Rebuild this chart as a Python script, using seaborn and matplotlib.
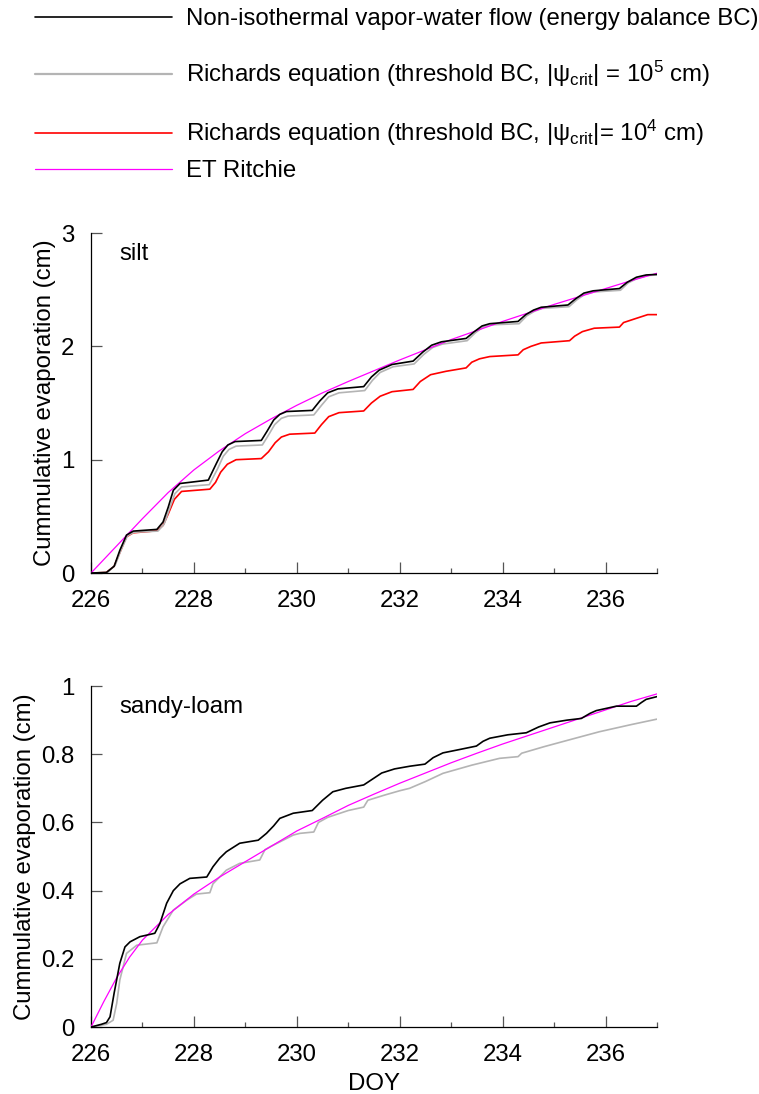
import numpy as np
import pandas as pd
import matplotlib
matplotlib.use("Agg")
import matplotlib.pyplot as plt
import seaborn as sns
from matplotlib.lines import Line2D
from matplotlib.ticker import MultipleLocator

# ---------------- data: silt ----------------
silt_nonisothermal_doy = [226.00, 226.30, 226.45, 226.56, 226.69, 226.82, 227.28, 227.40, 227.50, 227.60,
                          227.73, 228.28, 228.44, 228.55, 228.66, 228.80, 229.31, 229.42, 229.55, 229.67,
                          229.80, 230.30, 230.45, 230.60, 230.80, 231.30, 231.45, 231.60, 231.85, 232.26,
                          232.45, 232.62, 232.81, 233.29, 233.45, 233.60, 233.75, 234.30, 234.45, 234.60,
                          234.75, 235.27, 235.42, 235.58, 235.76, 236.27, 236.42, 236.60, 236.79, 237.00]
silt_nonisothermal_evap = [0.000, 0.005, 0.060, 0.200, 0.335, 0.370, 0.385, 0.450, 0.580, 0.730,
                           0.790, 0.820, 0.970, 1.070, 1.130, 1.160, 1.170, 1.250, 1.350, 1.400,
                           1.425, 1.435, 1.520, 1.590, 1.625, 1.645, 1.730, 1.790, 1.840, 1.870,
                           1.950, 2.010, 2.040, 2.070, 2.130, 2.180, 2.200, 2.220, 2.280, 2.320,
                           2.345, 2.365, 2.420, 2.470, 2.490, 2.510, 2.565, 2.610, 2.630, 2.635]

silt_rich5_doy = [226.00, 226.32, 226.47, 226.58, 226.71, 226.84, 227.30, 227.42, 227.52, 227.63,
                  227.76, 228.30, 228.46, 228.57, 228.68, 228.82, 229.33, 229.44, 229.57, 229.70,
                  229.83, 230.33, 230.48, 230.62, 230.82, 231.32, 231.47, 231.62, 231.87, 232.28,
                  232.47, 232.64, 232.83, 233.31, 233.47, 233.62, 233.77, 234.32, 234.47, 234.62,
                  234.77, 235.29, 235.44, 235.60, 235.78, 236.29, 236.44, 236.62, 236.81, 237.00]
silt_rich5_evap = [0.000, 0.005, 0.070, 0.200, 0.330, 0.360, 0.370, 0.430, 0.560, 0.700,
                   0.760, 0.780, 0.920, 1.030, 1.090, 1.120, 1.130, 1.210, 1.310, 1.365,
                   1.385, 1.395, 1.480, 1.555, 1.590, 1.610, 1.700, 1.770, 1.820, 1.845,
                   1.930, 1.990, 2.020, 2.050, 2.120, 2.170, 2.190, 2.200, 2.270, 2.310,
                   2.335, 2.350, 2.410, 2.460, 2.480, 2.495, 2.560, 2.600, 2.625, 2.630]

silt_rich4_doy = [226.00, 226.30, 226.45, 226.56, 226.69, 226.82, 227.28, 227.40, 227.50, 227.62,
                  227.76, 228.31, 228.42, 228.52, 228.65, 228.82, 229.31, 229.45, 229.58, 229.70,
                  229.86, 230.35, 230.48, 230.62, 230.82, 231.30, 231.45, 231.62, 231.85, 232.26,
                  232.40, 232.60, 232.90, 233.29, 233.40, 233.55, 233.75, 234.30, 234.40, 234.55,
                  234.75, 235.30, 235.40, 235.55, 235.78, 236.27, 236.35, 236.55, 236.82, 237.00]
silt_rich4_evap = [0.000, 0.005, 0.060, 0.180, 0.320, 0.355, 0.373, 0.420, 0.520, 0.650,
                   0.720, 0.740, 0.800, 0.890, 0.960, 1.000, 1.010, 1.070, 1.150, 1.200,
                   1.225, 1.235, 1.310, 1.380, 1.415, 1.430, 1.500, 1.560, 1.600, 1.620,
                   1.690, 1.750, 1.780, 1.810, 1.860, 1.890, 1.910, 1.925, 1.970, 2.000,
                   2.030, 2.050, 2.090, 2.130, 2.160, 2.170, 2.210, 2.240, 2.280, 2.280]

silt_ritchie_doy = [226.0, 226.5, 227.0, 227.5, 228.0, 228.5, 229.0, 229.5, 230.0, 230.5, 231.0,
                    231.5, 232.0, 232.5, 233.0, 233.5, 234.0, 234.5, 235.0, 235.5, 236.0, 236.5, 237.0]
silt_ritchie_evap = [0.000, 0.240, 0.480, 0.710, 0.910, 1.080, 1.230, 1.360, 1.480, 1.590, 1.690,
                     1.785, 1.880, 1.970, 2.060, 2.140, 2.220, 2.295, 2.370, 2.440, 2.510, 2.580, 2.645]

# ---------------- data: sandy loam ----------------
sand_nonisothermal_doy = [226.00, 226.20, 226.30, 226.37, 226.45, 226.56, 226.66, 226.76, 226.95, 227.24,
                          227.34, 227.47, 227.60, 227.73, 227.92, 228.25, 228.37, 228.50, 228.63, 228.89,
                          229.25, 229.41, 229.55, 229.67, 229.93, 230.30, 230.50, 230.70, 230.95, 231.30,
                          231.45, 231.65, 231.90, 232.20, 232.49, 232.65, 232.84, 233.20, 233.49, 233.62,
                          233.75, 234.10, 234.46, 234.70, 234.92, 235.25, 235.53, 235.70, 235.82, 236.21,
                          236.60, 236.70, 236.79, 237.00]
sand_nonisothermal_evap = [0.000, 0.008, 0.013, 0.030, 0.100, 0.187, 0.235, 0.250, 0.265, 0.275,
                           0.304, 0.363, 0.400, 0.420, 0.436, 0.440, 0.470, 0.495, 0.514, 0.539,
                           0.548, 0.568, 0.590, 0.612, 0.627, 0.635, 0.665, 0.690, 0.700, 0.710,
                           0.725, 0.745, 0.757, 0.765, 0.771, 0.790, 0.804, 0.815, 0.824, 0.838,
                           0.847, 0.857, 0.863, 0.880, 0.892, 0.900, 0.905, 0.920, 0.928, 0.941,
                           0.941, 0.952, 0.961, 0.969]

sand_rich5_doy = [226.00, 226.30, 226.43, 226.50, 226.56, 226.69, 226.89, 227.28, 227.40, 227.60,
                  227.86, 228.05, 228.31, 228.37, 228.50, 228.63, 228.89, 229.28, 229.38, 229.50,
                  229.67, 229.93, 230.06, 230.33, 230.42, 230.60, 231.00, 231.30, 231.38, 231.70,
                  232.00, 232.19, 232.50, 232.84, 233.40, 233.94, 234.30, 234.37, 234.80, 235.24,
                  235.88, 236.50, 237.00]
sand_rich5_evap = [0.000, 0.008, 0.020, 0.070, 0.138, 0.216, 0.240, 0.247, 0.294, 0.343,
                   0.372, 0.390, 0.394, 0.420, 0.440, 0.460, 0.480, 0.490, 0.520, 0.530,
                   0.543, 0.563, 0.568, 0.572, 0.600, 0.615, 0.635, 0.645, 0.665, 0.680,
                   0.693, 0.700, 0.720, 0.744, 0.768, 0.788, 0.793, 0.803, 0.822, 0.840,
                   0.866, 0.887, 0.903]

sand_ritchie_doy = [226.0, 226.25, 226.5, 226.75, 227.0, 227.5, 228.0, 228.5, 229.0, 229.5, 230.0,
                    230.5, 231.0, 231.5, 232.0, 232.5, 233.0, 233.5, 234.0, 234.5, 235.0, 235.5,
                    236.0, 236.5, 237.0]
sand_ritchie_evap = [0.000, 0.075, 0.145, 0.205, 0.255, 0.330, 0.390, 0.440, 0.485, 0.530, 0.575,
                     0.612, 0.650, 0.683, 0.715, 0.745, 0.775, 0.803, 0.830, 0.855, 0.880, 0.905,
                     0.930, 0.955, 0.977]

labels = [
    "Non-isothermal vapor-water flow (energy balance BC)",
    "Richards equation (threshold BC, |ψ$_{crit}$| = 10$^5$ cm)",
    "Richards equation (threshold BC, |ψ$_{crit}$|= 10$^4$ cm)",
    "ET Ritchie",
]
colors = ["#000000", "#b4b4b4", "#ff0000", "#ff00ff"]
widths = [1.2, 1.2, 1.2, 0.9]
zorders = [4, 2, 2, 3]

FS = 17.3

sns.set_theme(style="ticks")
plt.rcParams["font.family"] = ["Liberation Sans", "DejaVu Sans"]
plt.rcParams["mathtext.default"] = "regular"
plt.rcParams["text.color"] = "black"
plt.rcParams["axes.labelcolor"] = "black"

fig = plt.figure(figsize=(7.59, 10.94), dpi=100)
ax_top = fig.add_axes([0.1199, 0.4762, 0.7457, 0.3108])
ax_bot = fig.add_axes([0.1199, 0.0612, 0.7457, 0.3117])


def draw(ax, series):
    for (doy, evap), lab in series:
        i = labels.index(lab)
        sns.lineplot(x=doy, y=evap, ax=ax, color=colors[i], lw=widths[i],
                     zorder=zorders[i], estimator=None, sort=False)


draw(ax_top, [((silt_rich4_doy, silt_rich4_evap), labels[2]),
              ((silt_rich5_doy, silt_rich5_evap), labels[1]),
              ((silt_ritchie_doy, silt_ritchie_evap), labels[3]),
              ((silt_nonisothermal_doy, silt_nonisothermal_evap), labels[0])])
draw(ax_bot, [((sand_rich5_doy, sand_rich5_evap), labels[1]),
              ((sand_ritchie_doy, sand_ritchie_evap), labels[3]),
              ((sand_nonisothermal_doy, sand_nonisothermal_evap), labels[0])])

for ax, ymax, ystep, name in [(ax_top, 3, 1, "silt"), (ax_bot, 1, 0.2, "sandy-loam")]:
    ax.set_xlim(226, 237)
    ax.set_ylim(0, ymax)
    ax.xaxis.set_major_locator(MultipleLocator(2))
    ax.xaxis.set_minor_locator(MultipleLocator(1))
    ax.yaxis.set_major_locator(MultipleLocator(ystep))
    ax.yaxis.set_major_formatter(plt.FuncFormatter(lambda v, p: f"{v:g}"))
    for s in ["top", "right"]:
        ax.spines[s].set_visible(False)
    for s in ["left", "bottom"]:
        ax.spines[s].set_color("black")
        ax.spines[s].set_linewidth(0.9)
    ax.tick_params(axis="both", which="major", direction="in", length=8, width=0.9,
                   color="#555555", labelsize=FS, labelcolor="black")
    ax.tick_params(axis="x", which="major", pad=12)
    ax.tick_params(axis="y", which="major", pad=12)
    ax.tick_params(axis="x", which="minor", direction="in", length=3.8, width=0.9, color="#555555")
    ax.set_ylabel("Cummulative evaporation (cm)", fontsize=FS, labelpad=3.5)
    ax.set_xlabel("")
    ax.text(0.05, 0.97, name, transform=ax.transAxes, fontsize=FS, va="top", ha="left")

ax_bot.set_xlabel("DOY", fontsize=FS, labelpad=5)

# legend block across the top of the figure
legend_rows = [1 - 19 / 1094, 1 - 74 / 1094, 1 - 133 / 1094, 1 - 171 / 1094]
for i, yrow in enumerate(legend_rows):
    h = Line2D([], [], color=colors[i], lw=widths[i] if i != 1 else 1.6)
    fig.legend(handles=[h], labels=[labels[i]], loc="center left",
               bbox_to_anchor=(35 / 759, yrow), frameon=False, fontsize=FS,
               handlelength=137 / (FS * 100 / 72), handletextpad=14 / (FS * 100 / 72),
               borderpad=0, borderaxespad=0)

fig.savefig("out.png", dpi=100)
